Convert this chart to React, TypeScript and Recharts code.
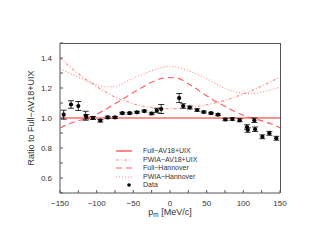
import React from 'react';
import {
  ComposedChart,
  Line,
  Scatter,
  ErrorBar,
  XAxis,
  YAxis,
  Legend,
} from 'recharts';

// theory curves, sampled on a common p_m grid
const curveX = [
  -150, -137.5, -125, -112.5, -100, -87.5, -75, -62.5, -50, -37.5, -25, -12.5, 0,
  12.5, 25, 37.5, 50, 62.5, 75, 87.5, 100, 112.5, 125, 137.5, 150,
];
const fullAv18 = [
  1.0, 1.0, 1.0, 1.0, 1.0, 1.0, 1.0, 1.0, 1.0, 1.0, 1.0, 1.0, 1.0,
  1.0, 1.0, 1.0, 1.0, 1.0, 1.0, 1.0, 1.0, 1.0, 1.0, 1.0, 1.0,
];
const pwiaAv18 = [
  1.4, 1.345, 1.295, 1.25, 1.21, 1.172, 1.14, 1.115, 1.095, 1.08, 1.07, 1.064, 1.062,
  1.064, 1.07, 1.078, 1.088, 1.102, 1.118, 1.138, 1.16, 1.185, 1.213, 1.242, 1.272,
];
const fullHannover = [
  0.933, 0.962, 0.982, 0.998, 1.025, 1.058, 1.095, 1.132, 1.17, 1.205, 1.238, 1.262, 1.27,
  1.262, 1.228, 1.19, 1.148, 1.11, 1.078, 1.045, 1.018, 0.997, 0.982, 0.962, 0.935,
];
const pwiaHannover = [
  1.33, 1.3, 1.272, 1.245, 1.222, 1.208, 1.21, 1.235, 1.265, 1.292, 1.315, 1.335, 1.345,
  1.335, 1.315, 1.29, 1.262, 1.228, 1.198, 1.177, 1.165, 1.162, 1.172, 1.188, 1.205,
];

// measured ratios
const dataX = [
  -145, -135, -125, -115, -114, -105, -95, -85, -75, -65, -55, -45, -35, -25, -18, -12,
  12.5, 18, 27, 37, 46, 56, 65.5, 75.5, 85, 95, 105, 106, 115, 116, 126, 135.5, 145,
];
const dataY = [
  1.022, 1.09, 1.08, 1.015, 1.008, 1.0, 0.982, 1.004, 1.004, 1.032, 1.032, 1.038, 1.046, 1.03, 1.05, 1.06,
  1.133, 1.08, 1.07, 1.053, 1.04, 1.032, 1.022, 0.99, 0.993, 0.985, 0.94, 0.92, 0.985, 0.925, 0.875, 0.898, 0.865,
];
const dataErr = [
  0.03, 0.025, 0.03, 0.03, 0.015, 0.01, 0.008, 0.008, 0.006, 0.006, 0.006, 0.006, 0.006, 0.008, 0.015, 0.03,
  0.03, 0.015, 0.01, 0.008, 0.006, 0.006, 0.006, 0.008, 0.008, 0.01, 0.015, 0.015, 0.015, 0.015, 0.013, 0.013, 0.013,
];

const xTicks = [-150, -125, -100, -75, -50, -25, 0, 25, 50, 75, 100, 125, 150];
const yTicks = [0.5, 0.6, 0.7, 0.8, 0.9, 1.0, 1.1, 1.2, 1.3, 1.4, 1.5];

const curves = curveX.map((x, i) => ({
  x,
  full: fullAv18[i],
  pwiaAv: pwiaAv18[i],
  fullHan: fullHannover[i],
  pwiaHan: pwiaHannover[i],
}));
const points = dataX.map((x, i) => ({ x, y: dataY[i], err: dataErr[i] }));

const FONT = '"Liberation Sans", Arial, Helvetica, sans-serif';
const AXIS = '#555';
const TEXT = '#333';

const W = 316;
const H = 243;
const M = { top: 35, right: 44, left: 0, bottom: 28 };
const Y_AXIS_W = 52;
const X_AXIS_H = 30;

const series = [
  { key: 'full', name: 'Full\u2212AV18+UIX', color: '#ff6b6b', width: 1.6, dash: undefined },
  { key: 'pwiaAv', name: 'PWIA\u2212AV18+UIX', color: '#ff8a8a', width: 1.1, dash: '3 2 1 2' },
  { key: 'fullHan', name: 'Full\u2212Hannover', color: '#ff5f5f', width: 1.2, dash: '6 4' },
  { key: 'pwiaHan', name: 'PWIA\u2212Hannover', color: '#ff8a8a', width: 1.1, dash: '1 2' },
];

const fmtX = (v: number) => (v % 50 === 0 ? (v < 0 ? `\u2212${-v}` : `${v}`) : '');
const fmtY = (v: number) => {
  const t = Math.round(v * 10);
  return t % 2 === 0 && t > 5 && t < 15 ? (t / 10).toFixed(1) : '';
};

function Dot(props: any) {
  const { cx, cy } = props;
  if (cx == null || cy == null) return null;
  return <circle cx={cx} cy={cy} r={2.1} fill="#000" />;
}

function XLabel(props: any) {
  const vb = props.viewBox || {};
  const cx = vb.x + vb.width / 2;
  return (
    <text x={cx} y={vb.y + 22} textAnchor="middle" fontSize={9} fontFamily={FONT} fill={TEXT}>
      <tspan>p</tspan>
      <tspan fontSize={6.5} dy={2}>m</tspan>
      <tspan dy={-2}>{'  [MeV/c]'}</tspan>
    </text>
  );
}

function ChartLegend() {
  return (
    <div style={{ fontFamily: FONT, fontSize: 7, color: TEXT, lineHeight: '8.5px' }}>
      {series.map((s) => (
        <div key={s.key} style={{ display: 'flex', alignItems: 'center', height: 8.5 }}>
          <svg width={16} height={6} style={{ display: 'block' }}>
            <line x1={0} y1={3} x2={16} y2={3} stroke={s.color} strokeWidth={s.width} strokeDasharray={s.dash} />
          </svg>
          <span style={{ marginLeft: 11, whiteSpace: 'nowrap' }}>{s.name}</span>
        </div>
      ))}
      <div style={{ display: 'flex', alignItems: 'center', height: 8.5 }}>
        <svg width={16} height={6} style={{ display: 'block' }}>
          <circle cx={13} cy={3} r={1.8} fill="#000" />
        </svg>
        <span style={{ marginLeft: 11 }}>Data</span>
      </div>
    </div>
  );
}

export default function App() {
  const tickStyle = { fill: TEXT, fontSize: 8, fontFamily: FONT };
  return (
    <div style={{ position: 'relative', width: W, height: H }}>
      <ComposedChart width={W} height={H} data={curves} margin={M}>
        <XAxis
          dataKey="x"
          type="number"
          domain={[-150, 150]}
          ticks={xTicks}
          tickFormatter={fmtX}
          interval={0}
          allowDataOverflow
          height={X_AXIS_H}
          tickSize={-3}
          tickMargin={10}
          tick={tickStyle}
          stroke={AXIS}
          label={(p: any) => <XLabel {...p} />}
        />
        <YAxis
          type="number"
          domain={[0.5, 1.5]}
          ticks={yTicks}
          tickFormatter={fmtY}
          interval={0}
          allowDataOverflow
          width={Y_AXIS_W}
          tickSize={-3}
          tickMargin={11}
          tick={tickStyle}
          stroke={AXIS}
          label={{
            value: 'Ratio  to  Full\u2212AV18+UIX',
            angle: -90,
            position: 'insideLeft',
            offset: 23,
            style: { textAnchor: 'middle', fontSize: 9, fontFamily: FONT, fill: TEXT },
          }}
        />
        <Legend
          layout="vertical"
          align="center"
          verticalAlign="middle"
          content={<ChartLegend />}
          wrapperStyle={{ left: 108, top: 139, width: 'auto', height: 'auto' }}
        />
        {series.map((s) => (
          <Line
            key={s.key}
            dataKey={s.key}
            name={s.name}
            type="monotone"
            stroke={s.color}
            strokeWidth={s.width}
            strokeDasharray={s.dash}
            dot={false}
            activeDot={false}
            isAnimationActive={false}
          />
        ))}
        <Scatter data={points} dataKey="y" name="Data" shape={<Dot />} isAnimationActive={false}>
          <ErrorBar dataKey="err" direction="y" width={3} stroke="#000" strokeWidth={0.8} />
        </Scatter>
      </ComposedChart>
      {/* top and right sides of the plot frame */}
      <div
        style={{
          position: 'absolute',
          left: M.left + Y_AXIS_W,
          top: M.top - 0.5,
          width: W - M.left - M.right - Y_AXIS_W + 0.5,
          height: H - M.top - M.bottom - X_AXIS_H,
          borderTop: `1px solid ${AXIS}`,
          borderRight: `1px solid ${AXIS}`,
          boxSizing: 'border-box',
          pointerEvents: 'none',
        }}
      />
    </div>
  );
}
